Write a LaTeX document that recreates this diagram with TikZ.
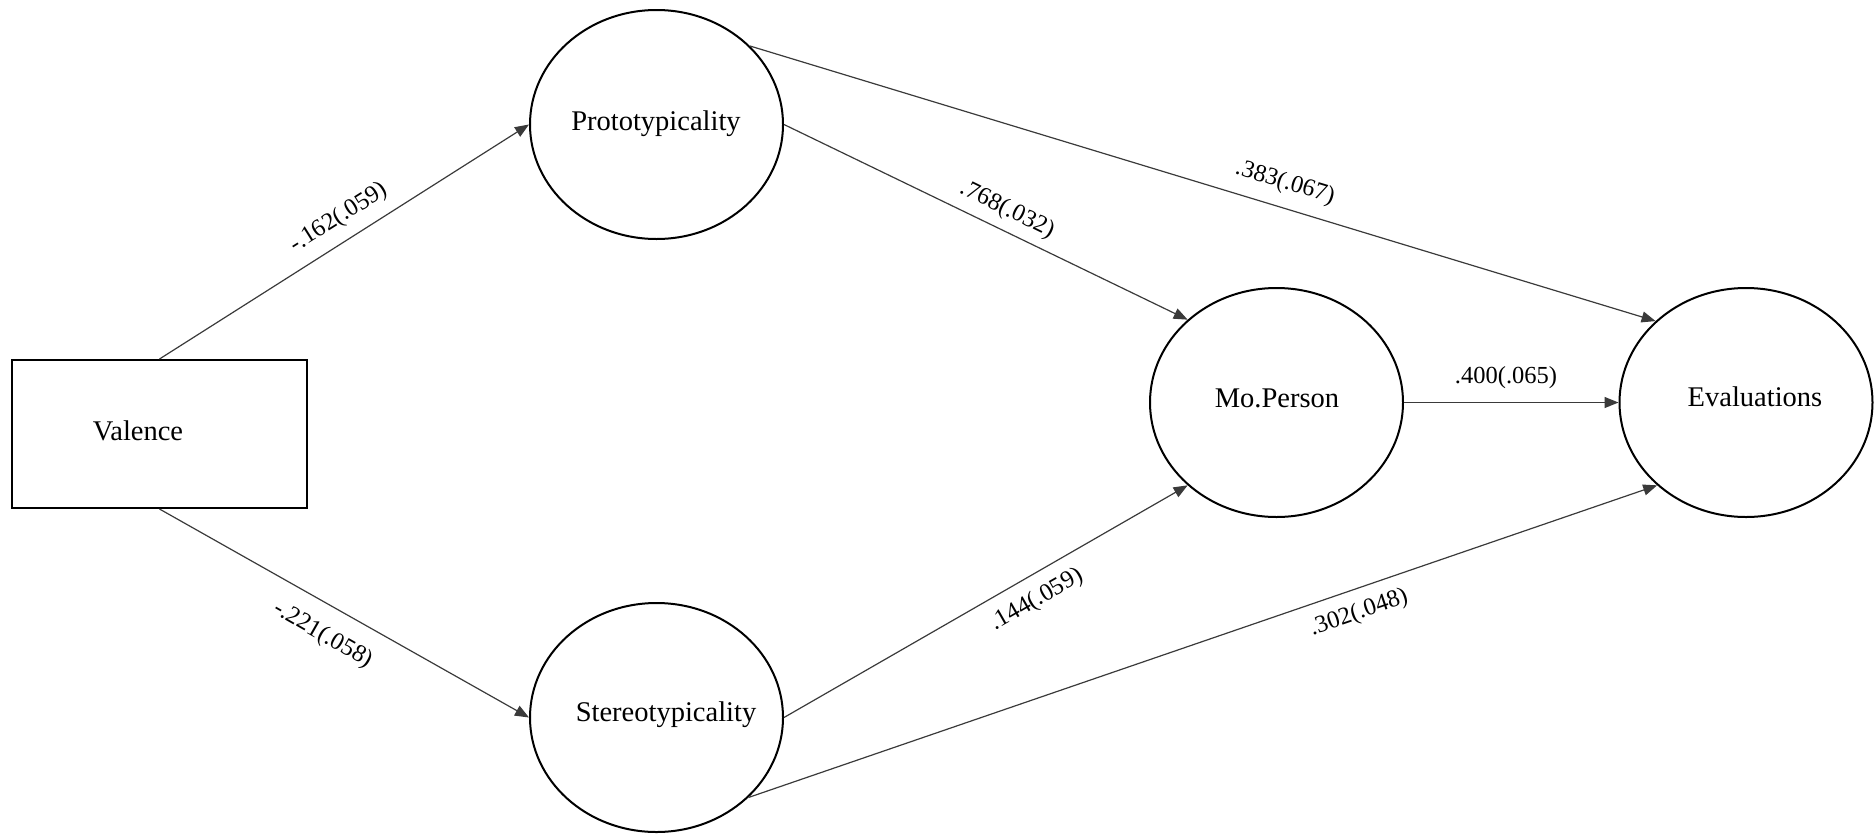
\documentclass[tikz,border=0pt]{standalone}
\usepackage{fontspec}
\setmainfont{Liberation Serif}
\usetikzlibrary{arrows.meta,shapes.geometric}
\definecolor{edgegray}{HTML}{3A3A3A}
\tikzset{
  latent/.style={ellipse, draw=black, line width=2pt, minimum width=253pt, minimum height=229pt, inner sep=0pt},
  observed/.style={rectangle, draw=black, line width=2pt, minimum width=295pt, minimum height=148pt, inner sep=0pt},
  vname/.style={font=\fontsize{28.5}{30}\selectfont, anchor=base, inner sep=0pt},
  coef/.style={font=\fontsize{24.5}{26}\selectfont, inner sep=0pt},
  path/.style={draw=edgegray, line width=1.2pt, -{Triangle[length=14pt,width=11pt]}}
}
\begin{document}
\begin{tikzpicture}[x=1pt,y=-1pt]
\useasboundingbox (0,0) rectangle (1874,833);

% variables
\node[observed] (valence) at (159.5,434) {};
\node[latent] (proto)  at (656.5,124.5) {};
\node[latent] (stereo) at (656.5,717.5) {};
\node[latent] (mo)     at (1276.5,402.5) {};
\node[latent] (eval)   at (1746,402.5) {};

% variable names
\node[vname] (valenceT) at (138,440)  {Valence};
\node[vname] (protoT)   at (656,130)  {Prototypicality};
\node[vname] (stereoT)  at (666,721.5) {Stereotypicality};
\node[vname] (moT)      at (1277,407) {Mo.Person};
\node[vname] (evalT)    at (1755,406.5) {Evaluations};

% structural paths
\draw[path] (valence.north) -- (proto.west);
\draw[path] (valence.south) -- (stereo.west);
\draw[path] (proto.east) -- (mo.137);
\draw[path] (proto.40) -- (eval.138);
\draw[path] (stereo.east) -- (mo.223);
\draw[path] (stereo.319) -- (eval.223);
\draw[path] (mo.east) -- (eval.west);

% path coefficients (standard errors)
\node[coef, rotate=32.2]  (c1) at (339,218)  {-.162(.059)};
\node[coef, rotate=-29.7] (c2) at (323,635)  {-.221(.058)};
\node[coef, rotate=-26.1] (c3) at (1007,210) {.768(.032)};
\node[coef, rotate=-16.9] (c4) at (1285,183) {.383(.067)};
\node[coef]               (c5) at (1506,378) {.400(.065)};
\node[coef, rotate=29.7]  (c6) at (1037,600) {.144(.059)};
\node[coef, rotate=18.9]  (c7) at (1359,613) {.302(.048)};
\end{tikzpicture}
\end{document}
